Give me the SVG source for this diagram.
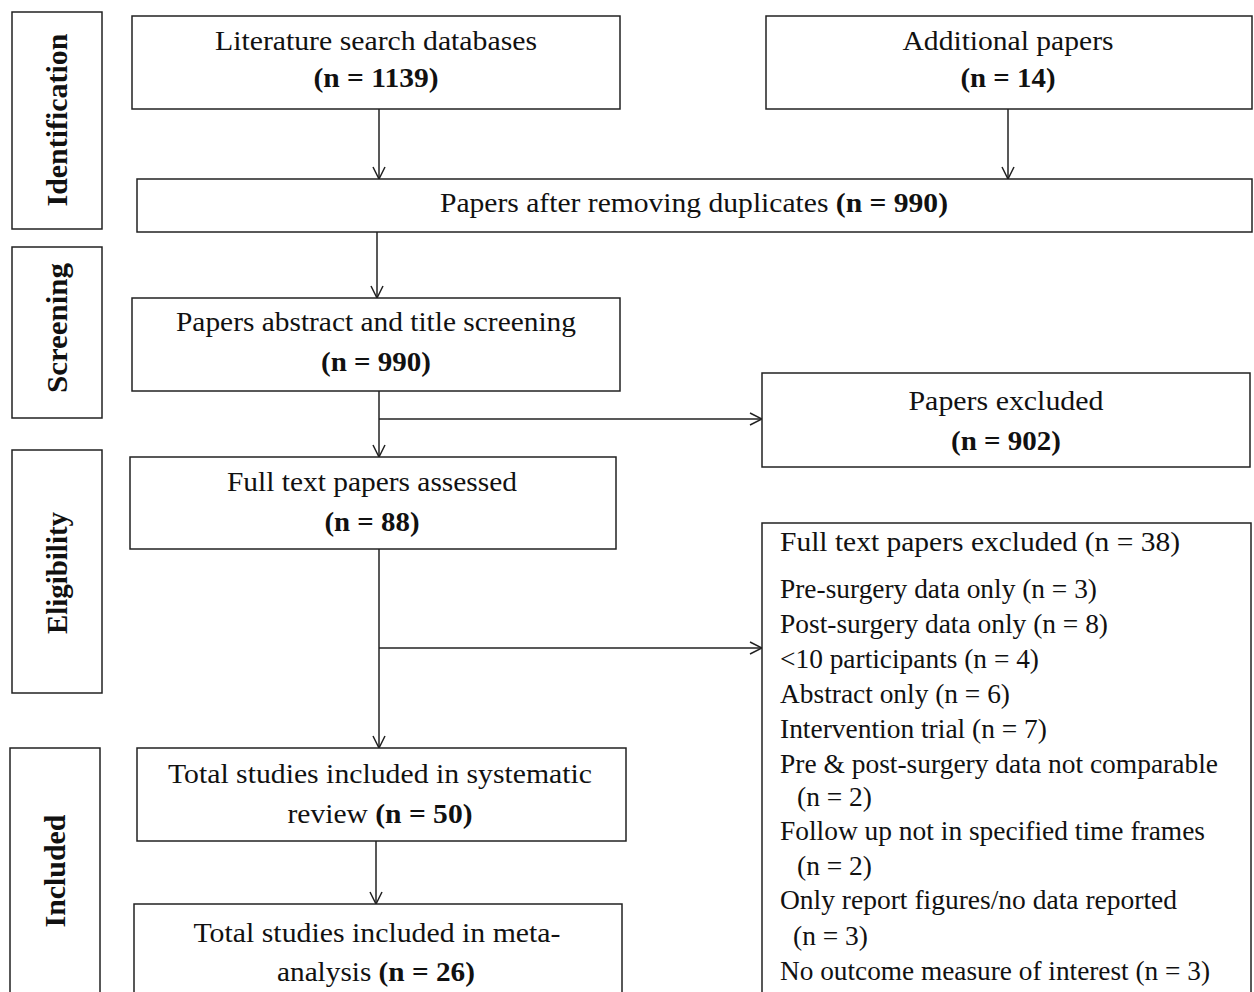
<svg xmlns="http://www.w3.org/2000/svg" width="1254" height="992" viewBox="0 0 1254 992">
<defs>
<style>
.box{fill:#fff;stroke:#222;stroke-width:1.5}
.t{font-family:"Liberation Serif","Times New Roman",serif;font-size:28px;fill:#111}
.c{text-anchor:middle}
.b{font-weight:bold}
.side{font-family:"Liberation Serif","Times New Roman",serif;font-size:29px;font-weight:bold;fill:#111;text-anchor:middle}
.ln{fill:none;stroke:#222;stroke-width:1.5}
.l{font-family:"Liberation Serif","Times New Roman",serif;font-size:27px;fill:#111}
</style>
<marker id="arr" viewBox="0 0 14 14" refX="13" refY="7" markerWidth="14" markerHeight="14" markerUnits="userSpaceOnUse" orient="auto">
<path d="M1,1 L13,7 L1,13" fill="none" stroke="#222" stroke-width="1.5"/>
</marker>
</defs>
<rect width="1254" height="992" fill="#fff"/>

<g id="phase-identification">
<rect class="box" x="12" y="12" width="90" height="217"/>
<text class="side" transform="translate(67,120) rotate(-90)" textLength="173" lengthAdjust="spacingAndGlyphs">Identification</text>
</g>
<g id="phase-screening">
<rect class="box" x="12" y="247" width="90" height="171"/>
<text class="side" transform="translate(67,328) rotate(-90)" textLength="130" lengthAdjust="spacingAndGlyphs">Screening</text>
</g>
<g id="phase-eligibility">
<rect class="box" x="12" y="450" width="90" height="243"/>
<text class="side" transform="translate(67,573) rotate(-90)" textLength="122" lengthAdjust="spacingAndGlyphs">Eligibility</text>
</g>
<g id="phase-included">
<rect class="box" x="10" y="748" width="90" height="260"/>
<text class="side" transform="translate(65,871) rotate(-90)" textLength="113" lengthAdjust="spacingAndGlyphs">Included</text>
</g>

<g id="connectors">
<line class="ln" x1="379" y1="109" x2="379" y2="179" marker-end="url(#arr)"/>
<line class="ln" x1="1008" y1="109" x2="1008" y2="179" marker-end="url(#arr)"/>
<line class="ln" x1="377" y1="232" x2="377" y2="298" marker-end="url(#arr)"/>
<line class="ln" x1="379" y1="391" x2="379" y2="457" marker-end="url(#arr)"/>
<line class="ln" x1="379" y1="419" x2="762" y2="419" marker-end="url(#arr)"/>
<line class="ln" x1="379" y1="549" x2="379" y2="748" marker-end="url(#arr)"/>
<line class="ln" x1="379" y1="648" x2="762" y2="648" marker-end="url(#arr)"/>
<line class="ln" x1="376" y1="841" x2="376" y2="904" marker-end="url(#arr)"/>
</g>

<g id="literature">
<rect class="box" x="132" y="16" width="488" height="93"/>
<text class="t c" x="376" y="50" textLength="322" lengthAdjust="spacingAndGlyphs">Literature search databases</text>
<text class="t c b" x="376" y="87" textLength="125" lengthAdjust="spacingAndGlyphs">(n = 1139)</text>
</g>
<g id="additional">
<rect class="box" x="766" y="16" width="486" height="93"/>
<text class="t c" x="1008" y="50" textLength="211" lengthAdjust="spacingAndGlyphs">Additional papers</text>
<text class="t c b" x="1008" y="87" textLength="95" lengthAdjust="spacingAndGlyphs">(n = 14)</text>
</g>
<g id="duplicates">
<rect class="box" x="137" y="179" width="1115" height="53"/>
<text class="t c" x="694" y="212" textLength="508" lengthAdjust="spacingAndGlyphs">Papers after removing duplicates <tspan class="b">(n = 990)</tspan></text>
</g>
<g id="screening">
<rect class="box" x="132" y="298" width="488" height="93"/>
<text class="t c" x="376" y="331" textLength="400" lengthAdjust="spacingAndGlyphs">Papers abstract and title screening</text>
<text class="t c b" x="376" y="371" textLength="110" lengthAdjust="spacingAndGlyphs">(n = 990)</text>
</g>
<g id="excluded">
<rect class="box" x="762" y="373" width="488" height="94"/>
<text class="t c" x="1006" y="410" textLength="195" lengthAdjust="spacingAndGlyphs">Papers excluded</text>
<text class="t c b" x="1006" y="450" textLength="110" lengthAdjust="spacingAndGlyphs">(n = 902)</text>
</g>
<g id="fulltext">
<rect class="box" x="130" y="457" width="486" height="92"/>
<text class="t c" x="372" y="491" textLength="290" lengthAdjust="spacingAndGlyphs">Full text papers assessed</text>
<text class="t c b" x="372" y="531" textLength="95" lengthAdjust="spacingAndGlyphs">(n = 88)</text>
</g>
<g id="fulltext-excluded">
<rect class="box" x="762" y="523" width="489" height="490"/>
<text class="l" x="780" y="551" textLength="400" lengthAdjust="spacingAndGlyphs">Full text papers excluded (n = 38)</text>
<text class="l" x="780" y="598" textLength="317" lengthAdjust="spacingAndGlyphs">Pre-surgery data only (n = 3)</text>
<text class="l" x="780" y="633" textLength="328" lengthAdjust="spacingAndGlyphs">Post-surgery data only (n = 8)</text>
<text class="l" x="780" y="668" textLength="259" lengthAdjust="spacingAndGlyphs">&lt;10 participants (n = 4)</text>
<text class="l" x="780" y="703" textLength="230" lengthAdjust="spacingAndGlyphs">Abstract only (n = 6)</text>
<text class="l" x="780" y="738" textLength="267" lengthAdjust="spacingAndGlyphs">Intervention trial (n = 7)</text>
<text class="l" x="780" y="773" textLength="438" lengthAdjust="spacingAndGlyphs">Pre &amp; post-surgery data not comparable</text>
<text class="l" x="797" y="806" textLength="75" lengthAdjust="spacingAndGlyphs">(n = 2)</text>
<text class="l" x="780" y="840" textLength="425" lengthAdjust="spacingAndGlyphs">Follow up not in specified time frames</text>
<text class="l" x="797" y="875" textLength="75" lengthAdjust="spacingAndGlyphs">(n = 2)</text>
<text class="l" x="780" y="909" textLength="397" lengthAdjust="spacingAndGlyphs">Only report figures/no data reported</text>
<text class="l" x="793" y="945" textLength="75" lengthAdjust="spacingAndGlyphs">(n = 3)</text>
<text class="l" x="780" y="980" textLength="430" lengthAdjust="spacingAndGlyphs">No outcome measure of interest (n = 3)</text>
</g>
<g id="systematic">
<rect class="box" x="137" y="748" width="489" height="93"/>
<text class="t c" x="380" y="783" textLength="424" lengthAdjust="spacingAndGlyphs">Total studies included in systematic</text>
<text class="t c" x="380" y="823" textLength="185" lengthAdjust="spacingAndGlyphs">review <tspan class="b">(n = 50)</tspan></text>
</g>
<g id="meta">
<rect class="box" x="134" y="904" width="488" height="110"/>
<text class="t c" x="377" y="942" textLength="367" lengthAdjust="spacingAndGlyphs">Total studies included in meta-</text>
<text class="t c" x="376" y="981" textLength="198" lengthAdjust="spacingAndGlyphs">analysis <tspan class="b">(n = 26)</tspan></text>
</g>
</svg>
